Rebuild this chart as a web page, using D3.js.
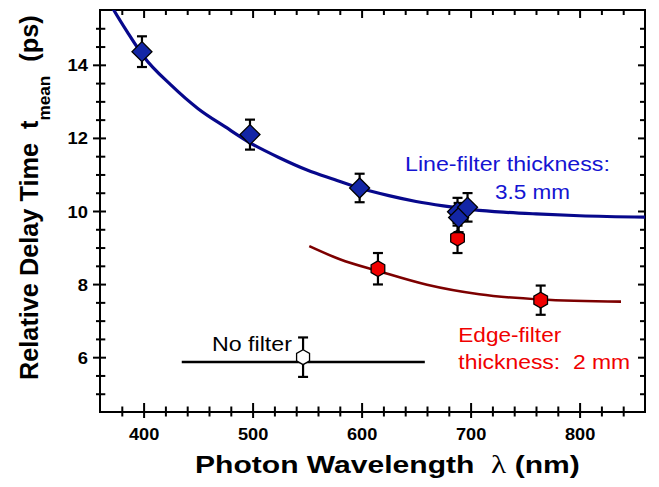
<!DOCTYPE html>
<html><head><meta charset="utf-8">
<script src="https://cdn.jsdelivr.net/npm/d3@7"></script>
<style>body{margin:0;background:#fff} text{white-space:pre}</style>
</head><body><svg id="c" width="659" height="487"></svg>
<script>
// ---- data ----
const xMajorTicks = [400, 500, 600, 700, 800];
const xMinorTicks = [380,420,440,460,480,520,540,560,580,620,640,660,680,720,740,760,780,820,840];
const yMajorTicks = [6, 8, 10, 12, 14];
const yMinorTicks = [5, 5.5, 6.5, 7, 7.5, 8.5, 9, 9.5, 10.5, 11, 11.5, 12.5, 13, 13.5, 14.5, 15];

const lineFilterWl  = [398.5, 497.6, 598.2, 688.0, 689.0, 697.2];
const lineFilterT   = [14.36, 12.09, 10.63, 9.98, 9.82, 10.10];
const lineFilterErr = [0.42, 0.41, 0.39, 0.38, 0.40, 0.39];

const edgeFilterWl  = [615.0, 688.0, 764.3];
const edgeFilterT   = [8.42, 9.26, 7.56];
const edgeFilterErr = [0.43, 0.41, 0.40];

const noFilterWl  = [546.3];
const noFilterT   = [6.00];
const noFilterErr = [0.54];
const noFilterBandWl = [435, 658];
const noFilterBandT  = [5.87, 5.87];

const lineFitWl = [365, 372.6, 385, 400, 425, 450, 475, 498, 525, 550, 575, 598, 625, 650, 675, 702, 730, 760, 800, 860];
const lineFitT  = [15.9, 15.5, 14.9, 14.23, 13.45, 12.8, 12.3, 11.86, 11.45, 11.12, 10.86, 10.63, 10.42, 10.26, 10.14, 10.04, 9.97, 9.92, 9.87, 9.83];

const edgeFitWl = [552, 580, 616, 660, 708, 764, 838];
const edgeFitT  = [9.04, 8.68, 8.35, 7.98, 7.72, 7.58, 7.52];

// ---- layout ----
const L = 100, R = 645, T = 10, B = 412;
const x = d3.scaleLinear().domain([360, 860]).range([L, R]);
const y = d3.scaleLinear().domain([4.5, 15.5]).range([B, T]);
const svg = d3.select("#c");
svg.append("rect").attr("width", 659).attr("height", 487).attr("fill", "#fff");
const FONT = "'Liberation Sans', Arial, Helvetica, sans-serif";

svg.append("defs").append("clipPath").attr("id", "clip")
  .append("rect").attr("x", L).attr("y", T).attr("width", R - L).attr("height", B - T);

// ---- axes ----
function styleAx(g) { g.select(".domain").remove(); g.selectAll("line").attr("stroke", "#000").attr("stroke-width", 2); }

const bMaj = svg.append("g").attr("transform", `translate(0,${B})`)
  .call(d3.axisBottom(x).tickValues(xMajorTicks).tickSize(6).tickFormat(d3.format("d")));
styleAx(bMaj);
bMaj.selectAll("line").attr("y1", -9).attr("y2", 6);
bMaj.selectAll("text").attr("y", 0).attr("dy", 0)
  .attr("transform", "translate(0,28) scale(1.07,1)")
  .attr("font-family", FONT).attr("font-size", 17).attr("font-weight", "bold").attr("fill", "#000");
const bMin = svg.append("g").attr("transform", `translate(0,${B})`)
  .call(d3.axisBottom(x).tickValues(xMinorTicks).tickSize(4).tickFormat(""));
styleAx(bMin);
bMin.selectAll("line").attr("y1", -5.5).attr("y2", 4.5);

const lMaj = svg.append("g").attr("transform", `translate(${L},0)`)
  .call(d3.axisLeft(y).tickValues(yMajorTicks).tickSize(7).tickFormat(d3.format("d")));
styleAx(lMaj);
lMaj.selectAll("line").attr("x1", 6).attr("x2", -7);
lMaj.selectAll("text").attr("x", 0).attr("dy", 0)
  .attr("transform", "translate(-12,6) scale(1.08,1)")
  .attr("font-family", FONT).attr("font-size", 17).attr("font-weight", "bold").attr("fill", "#000");
const lMin = svg.append("g").attr("transform", `translate(${L},0)`)
  .call(d3.axisLeft(y).tickValues(yMinorTicks).tickSize(4).tickFormat(""));
styleAx(lMin);
lMin.selectAll("line").attr("x1", 5.3).attr("x2", -4);

const tMaj = svg.append("g").attr("transform", `translate(0,${T})`)
  .call(d3.axisTop(x).tickValues(xMajorTicks).tickSize(-8).tickFormat(""));
styleAx(tMaj);
const tMin = svg.append("g").attr("transform", `translate(0,${T})`)
  .call(d3.axisTop(x).tickValues(xMinorTicks).tickSize(-5).tickFormat(""));
styleAx(tMin);
const rMaj = svg.append("g").attr("transform", `translate(${R},0)`)
  .call(d3.axisRight(y).tickValues(yMajorTicks).tickSize(-7).tickFormat(""));
styleAx(rMaj);
const rMin = svg.append("g").attr("transform", `translate(${R},0)`)
  .call(d3.axisRight(y).tickValues(yMinorTicks).tickSize(-5).tickFormat(""));
styleAx(rMin);

svg.append("rect").attr("x", L).attr("y", T).attr("width", R - L).attr("height", B - T)
  .attr("fill", "none").attr("stroke", "#000").attr("stroke-width", 2);

// ---- curves ----
const plot = svg.append("g").attr("clip-path", "url(#clip)");
const line = d3.line().curve(d3.curveMonotoneX).x(d => x(d[0])).y(d => y(d[1]));
plot.append("path").datum(edgeFitWl.map((w, i) => [w, edgeFitT[i]]))
  .attr("d", line).attr("fill", "none").attr("stroke", "#7d0000").attr("stroke-width", 2.6);
plot.append("path").datum(lineFitWl.map((w, i) => [w, lineFitT[i]]))
  .attr("d", line).attr("fill", "none").attr("stroke", "#07088c").attr("stroke-width", 3.2);
plot.append("path").datum(noFilterBandWl.map((w, i) => [w, noFilterBandT[i]]))
  .attr("d", d3.line().x(d => x(d[0])).y(d => y(d[1])))
  .attr("fill", "none").attr("stroke", "#000").attr("stroke-width", 2.6);

// ---- markers ----
const hexType = { draw(ctx, size) {
  const r = Math.sqrt(size);
  for (let k = 0; k < 6; k++) {
    const a = -Math.PI / 2 + k * Math.PI / 3;
    const px = r * Math.cos(a), py = r * Math.sin(a);
    if (k === 0) ctx.moveTo(px, py); else ctx.lineTo(px, py);
  }
  ctx.closePath();
}};

function series(wl, t, err, shape, size, fill, rot) {
  const data = wl.map((w, i) => ({ w, t: t[i], e: err[i] }));
  const g = svg.append("g");
  const eb = g.selectAll(".eb").data(data).join("g").attr("stroke", "#000").attr("stroke-width", 2.2);
  eb.append("line").attr("x1", d => x(d.w)).attr("x2", d => x(d.w))
    .attr("y1", d => y(d.t + d.e)).attr("y2", d => y(d.t - d.e));
  eb.append("line").attr("x1", d => x(d.w) - 5).attr("x2", d => x(d.w) + 5)
    .attr("y1", d => y(d.t + d.e)).attr("y2", d => y(d.t + d.e));
  eb.append("line").attr("x1", d => x(d.w) - 5).attr("x2", d => x(d.w) + 5)
    .attr("y1", d => y(d.t - d.e)).attr("y2", d => y(d.t - d.e));
  g.selectAll(".mk").data(data).join("path")
    .attr("d", d3.symbol(shape, size))
    .attr("transform", d => `translate(${x(d.w)},${y(d.t)}) rotate(${rot})`)
    .attr("fill", fill).attr("stroke", "#000").attr("stroke-width", 1.3);
}
series(edgeFilterWl, edgeFilterT, edgeFilterErr, hexType, 62, "#f00000", 0);
series(noFilterWl, noFilterT, noFilterErr, hexType, 56, "#fff", 0);
series(lineFilterWl, lineFilterT, lineFilterErr, d3.symbolSquare, 200, "#1326a6", 45);

// ---- text helper: place at (px,py), stretch to target width ----
function fit(textSel, px, py, width, rot) {
  const w = textSel.node().getComputedTextLength();
  const k = width / w;
  textSel.attr("transform", `translate(${px},${py}) rotate(${rot || 0}) scale(${k},1)`);
}
function label(txt, px, py, color, size, width) {
  const t = svg.append("text").text(txt)
    .attr("font-family", FONT).attr("font-size", size).attr("fill", color);
  fit(t, px, py, width);
}
label("Line-filter thickness:", 405, 170.5, "#1414d2", 21, 205);
label("3.5 mm", 495, 199, "#1414d2", 21, 75);
label("Edge-filter", 458.3, 341.7, "#f00000", 21, 103);
label("thickness:  2 mm", 458.3, 369.3, "#f00000", 21, 172);
label("No filter", 212, 350.7, "#000", 21, 80);

// axis titles
const xt = svg.append("text")
  .attr("font-family", FONT).attr("font-size", 24).attr("font-weight", "bold").attr("fill", "#000");
xt.append("tspan").text("Photon Wavelength  ");
xt.append("tspan").text("λ").attr("font-family", "'Liberation Serif', serif").attr("font-weight", "normal").attr("font-size", 25);
xt.append("tspan").text(" (nm)");
fit(xt, 195, 473, 385);

const yt = svg.append("text")
  .attr("font-family", FONT).attr("font-size", 25).attr("font-weight", "bold").attr("fill", "#000");
yt.append("tspan").text("Relative Delay Time  t");
yt.append("tspan").text("mean").attr("font-size", 17).attr("dy", 12);
yt.append("tspan").text("  (ps)").attr("dy", -12);
fit(yt, 37.5, 380, 365, -90);
</script></body></html>
